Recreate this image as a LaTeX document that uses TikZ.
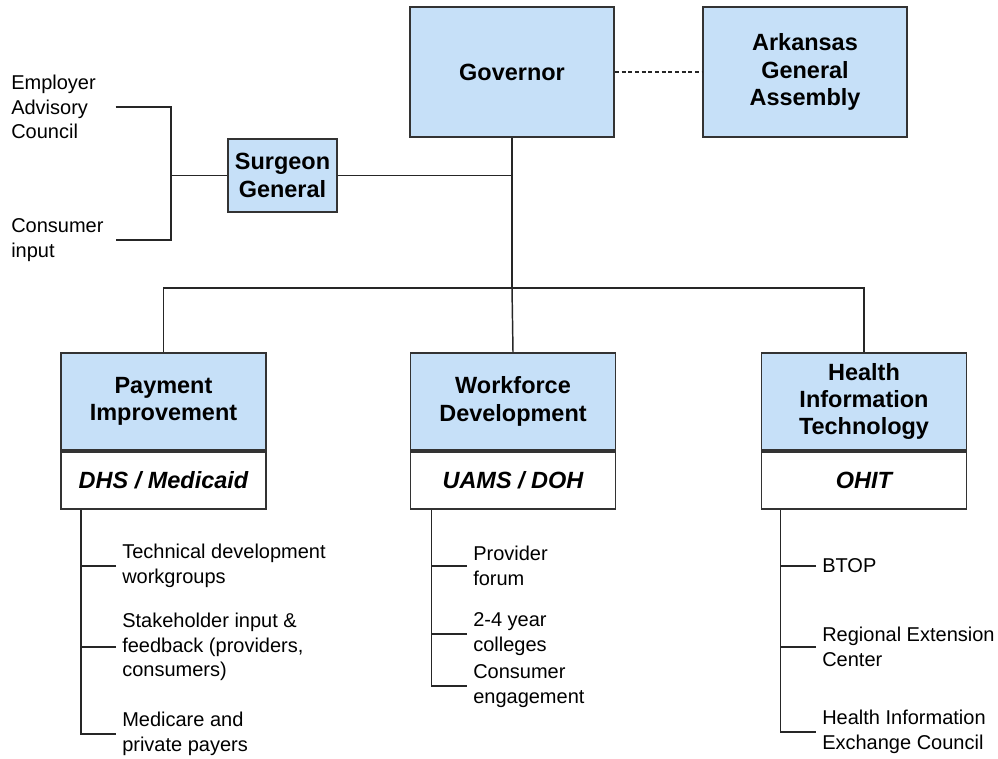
\documentclass[tikz,border=0pt]{standalone}
\usepackage{fontspec}
\setmainfont{Liberation Sans}
\usetikzlibrary{positioning}
\definecolor{boxblue}{RGB}{198,224,248}
\begin{document}
\begin{tikzpicture}[x=0.75pt,y=-0.75pt,
  head/.style={draw=black!80,fill=boxblue,line width=1.3pt,align=center,inner sep=0pt,
    font=\fontsize{17.6}{20.6}\selectfont\bfseries},
  subbox/.style={draw=black!80,fill=white,line width=1.3pt,inner sep=0pt,
    minimum width=153.75pt,minimum height=42.75pt,font=\fontsize{17.6}{20.6}\selectfont\bfseries\itshape},
  item/.style={anchor=west,align=left,inner xsep=4.5pt,inner ysep=0pt,font=\fontsize{15}{18.6}\selectfont},
  wire/.style={line width=1.1pt,black!85}]
\useasboundingbox (0,0) rectangle (998,758);
% top row
\node[head,minimum width=153pt,minimum height=97.5pt] (gov) at (512,72) {Governor};
\node[head,minimum width=153pt,minimum height=97.5pt] (gas) at (805,72) {Arkansas\\General\\Assembly};
\node[head,minimum width=81.75pt,minimum height=54.75pt] (sg) at (282.5,175.5) {Surgeon\\General};
\node[item,text width=78pt,inner xsep=0pt] (eac) at (11,107) {Employer\\Advisory\\Council};
\node[item,text width=78pt,inner xsep=0pt] (cin) at (11,240) {Consumer\\input};
\draw[wire,dash pattern=on 3pt off 2pt] (gov) -- (gas);
% three programs
\node[head,minimum width=153.75pt,minimum height=72.75pt] (pay) at (163.5,401.5) {Payment\\Improvement};
\node[subbox,below=0pt of pay] (paysub) {DHS / Medicaid};
\node[head,minimum width=153.75pt,minimum height=72.75pt] (wfd) at (513,401.5) {Workforce\\Development};
\node[subbox,below=0pt of wfd] (wfdsub) {UAMS / DOH};
\node[head,minimum width=153.75pt,minimum height=72.75pt] (hit) at (864,401.5) {Health\\Information\\Technology};
\node[subbox,below=0pt of hit] (hitsub) {OHIT};
% connectors
\coordinate (hub) at (gov.south |- 0,288);
\coordinate (fork) at ([xshift=-42pt]sg.west);
\draw[wire] (gov.south) -- (hub);
\draw[wire] (sg.east) -- (sg.east -| gov.south);
\draw[wire] (pay.north) |- (hub) -| (hit.north);
\draw[wire] (hub) -- (wfd.north);
\draw[wire] (eac.east) -| (fork) |- (cin.east);
\draw[wire] (fork) -- (sg.west);
% payment items
\node[item] (tech) at (116,566) {Technical development\\workgroups};
\node[item] (stake) at (116,647) {Stakeholder input \&\\feedback (providers,\\consumers)};
\node[item] (mcare) at (116,734) {Medicare and\\private payers};
\coordinate (payrail) at ([xshift=15.75pt]paysub.south west);
\draw[wire] (payrail) |- (mcare.west);
\foreach \n in {tech,stake} \draw[wire] (\n.west) -- (\n.west -| payrail);
% workforce items
\node[item] (prov) at (467,566) {Provider\\forum};
\node[item] (coll) at (467,634) {2-4 year\\colleges};
\node[item] (cons) at (467,686) {Consumer\\engagement};
\coordinate (wfdrail) at ([xshift=16.5pt]wfdsub.south west);
\draw[wire] (wfdrail) |- (cons.west);
\foreach \n in {prov,coll} \draw[wire] (\n.west) -- (\n.west -| wfdrail);
% hit items
\node[item] (btop) at (816,566) {BTOP};
\node[item] (rec) at (816,647) {Regional Extension\\Center};
\node[item] (hiec) at (816,732) {Health Information\\Exchange Council};
\coordinate (hitrail) at ([xshift=15pt]hitsub.south west);
\draw[wire] (hitrail) |- (hiec.west);
\foreach \n in {btop,rec} \draw[wire] (\n.west) -- (\n.west -| hitrail);
\end{tikzpicture}
\end{document}
